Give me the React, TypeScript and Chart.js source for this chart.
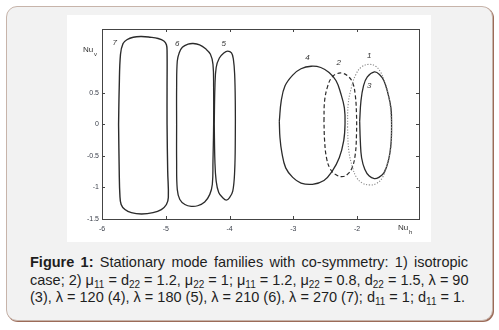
import React, { useEffect, useRef } from "react";
import { Chart, registerables } from "chart.js";

Chart.register(...registerables);

const xTicks = [-6, -5, -4, -3, -2];
const yTicks = [-1.5, -1, -0.5, 0, 0.5];
const xTickLabels = ["-6", "-5", "-4", "-3", "-2"];
const yTickLabels = ["-1.5", "-1", "-0.5", "0", "0.5"];

const curve1X = [-2.15, -2.14, -2.09, -2.02, -1.93, -1.81, -1.71, -1.64, -1.58, -1.51, -1.47, -1.46, -1.47, -1.53, -1.6, -1.7, -1.81, -1.92, -2.01, -2.07, -2.13, -2.15];
const curve1Y = [-0.05, 0.32, 0.58, 0.79, 0.91, 0.95, 0.92, 0.84, 0.71, 0.47, 0.16, -0.05, -0.37, -0.63, -0.84, -0.94, -0.96, -0.93, -0.84, -0.69, -0.42, -0.05];

const curve2X = [-2.52, -2.51, -2.46, -2.4, -2.32, -2.23, -2.14, -2.07, -2.03, -2.01, -2.01, -2.03, -2.08, -2.16, -2.24, -2.33, -2.42, -2.48, -2.51, -2.52];
const curve2Y = [0.05, 0.37, 0.61, 0.74, 0.8, 0.81, 0.76, 0.66, 0.47, 0.16, -0.16, -0.48, -0.69, -0.8, -0.83, -0.8, -0.71, -0.53, -0.26, 0.05];

const curve3X = [-1.96, -1.94, -1.9, -1.84, -1.73, -1.65, -1.58, -1.52, -1.47, -1.46, -1.47, -1.51, -1.58, -1.66, -1.73, -1.81, -1.88, -1.93, -1.95, -1.96];
const curve3Y = [0.05, 0.37, 0.61, 0.75, 0.83, 0.79, 0.69, 0.5, 0.26, 0, -0.32, -0.58, -0.77, -0.84, -0.86, -0.82, -0.71, -0.53, -0.26, 0.05];

const curve4X = [-3.22, -3.19, -3.13, -3.01, -2.88, -2.72, -2.57, -2.44, -2.33, -2.26, -2.2, -2.19, -2.21, -2.28, -2.39, -2.52, -2.7, -2.88, -3.01, -3.12, -3.18, -3.21, -3.22];
const curve4Y = [0.05, 0.37, 0.61, 0.78, 0.88, 0.92, 0.9, 0.82, 0.69, 0.5, 0.26, 0, -0.26, -0.53, -0.74, -0.89, -0.95, -0.93, -0.84, -0.69, -0.45, -0.21, 0.05];

const curve5X = [-4.24, -4.23, -4.21, -4.16, -4.09, -4.03, -3.97, -3.94, -3.92, -3.91, -3.91, -3.92, -3.95, -4.0, -4.05, -4.11, -4.17, -4.21, -4.23, -4.24];
const curve5Y = [0, 0.58, 0.9, 1.05, 1.13, 1.16, 1.13, 1.03, 0.79, 0.32, -0.21, -0.74, -1.06, -1.16, -1.2, -1.16, -1.08, -0.9, -0.58, 0];

const curve6X = [-4.83, -4.83, -4.82, -4.79, -4.74, -4.65, -4.57, -4.47, -4.38, -4.3, -4.26, -4.25, -4.25, -4.26, -4.27, -4.31, -4.39, -4.5, -4.6, -4.7, -4.78, -4.82, -4.83, -4.83];
const curve6Y = [0, 0.58, 1.0, 1.13, 1.22, 1.27, 1.28, 1.26, 1.2, 1.11, 0.95, 0.58, 0, -0.58, -0.95, -1.11, -1.23, -1.29, -1.3, -1.27, -1.19, -1.03, -0.58, 0];

const curve7X = [-5.74, -5.73, -5.71, -5.67, -5.61, -5.51, -5.38, -5.25, -5.12, -5.03, -4.99, -4.98, -4.98, -4.98, -4.97, -4.96, -4.99, -5.07, -5.2, -5.38, -5.54, -5.64, -5.7, -5.72, -5.73, -5.74];
const curve7Y = [0, 0.58, 1.11, 1.28, 1.34, 1.38, 1.39, 1.38, 1.36, 1.32, 1.26, 1.16, 0.58, 0, -0.74, -1.16, -1.27, -1.35, -1.4, -1.42, -1.4, -1.35, -1.27, -1.11, -0.74, 0];

const curveNames = ["1", "2", "3", "4", "5", "6", "7"];
const labelX = [-1.81, -2.29, -1.81, -2.78, -4.09, -4.82, -5.8];
const labelY = [1.08, 0.97, 0.61, 1.06, 1.27, 1.27, 1.29];

const toPts = (xs: number[], ys: number[]) => xs.map((x, i) => ({ x, y: ys[i] }));

const framePlugin = {
  id: "framePlugin",
  afterDraw(chart: any) {
    const { ctx, chartArea, scales } = chart;
    const { left, right, top, bottom } = chartArea;
    ctx.save();
    ctx.strokeStyle = "#444";
    ctx.lineWidth = 1;
    ctx.strokeRect(Math.round(left) + 0.5, Math.round(top) + 0.5, Math.round(right - left), Math.round(bottom - top));
    const tl = 3;
    ctx.beginPath();
    xTicks.forEach((v) => {
      const px = Math.round(scales.x.getPixelForValue(v)) + 0.5;
      ctx.moveTo(px, bottom);
      ctx.lineTo(px, bottom - tl);
      ctx.moveTo(px, top);
      ctx.lineTo(px, top + tl);
    });
    yTicks.forEach((v) => {
      const py = Math.round(scales.y.getPixelForValue(v)) + 0.5;
      ctx.moveTo(left, py);
      ctx.lineTo(left + tl, py);
      ctx.moveTo(right, py);
      ctx.lineTo(right - tl, py);
    });
    ctx.stroke();

    // axis titles
    ctx.fillStyle = "#333";
    ctx.textBaseline = "alphabetic";
    ctx.textAlign = "left";
    ctx.font = "8px 'Liberation Sans', Arial, sans-serif";
    ctx.fillText("Nu", left - 19, top + 23);
    ctx.font = "6px 'Liberation Sans', Arial, sans-serif";
    ctx.fillText("v", left - 8, top + 27);
    ctx.font = "8px 'Liberation Sans', Arial, sans-serif";
    ctx.fillText("Nu", right - 21, bottom + 11);
    ctx.font = "6px 'Liberation Sans', Arial, sans-serif";
    ctx.fillText("h", right - 10, bottom + 15);

    // curve labels
    ctx.font = "italic 8px 'Liberation Sans', Arial, sans-serif";
    ctx.textAlign = "center";
    ctx.textBaseline = "middle";
    curveNames.forEach((n, i) => {
      ctx.fillText(n, scales.x.getPixelForValue(labelX[i]), scales.y.getPixelForValue(labelY[i]));
    });
    ctx.restore();
  },
};

export default function App() {
  const ref = useRef<HTMLCanvasElement | null>(null);

  useEffect(() => {
    if (!ref.current) return;
    const solid = "#2b2b2b";
    const mk = (label: string, xs: number[], ys: number[], color: string, dash: number[], width: number) => ({
      label,
      data: toPts(xs, ys),
      showLine: true,
      borderColor: color,
      borderWidth: width,
      borderDash: dash,
      pointRadius: 0,
      tension: 0.4,
      fill: false,
    });
    const chart = new Chart(ref.current, {
      type: "scatter",
      data: {
        datasets: [
          mk("1", curve1X, curve1Y, "#8a8a8a", [1.2, 1.6], 1.1),
          mk("2", curve2X, curve2Y, solid, [4, 2.5], 1.2),
          mk("3", curve3X, curve3Y, solid, [], 1.3),
          mk("4", curve4X, curve4Y, solid, [], 1.3),
          mk("5", curve5X, curve5Y, solid, [], 1.3),
          mk("6", curve6X, curve6Y, solid, [], 1.3),
          mk("7", curve7X, curve7Y, solid, [], 1.4),
        ] as any,
      },
      options: {
        animation: false,
        responsive: false,
        maintainAspectRatio: false,
        layout: { padding: { top: 14, right: 12, left: 0, bottom: 0 } },
        plugins: { legend: { display: false }, tooltip: { enabled: false } },
        scales: {
          x: {
            type: "linear",
            min: -6,
            max: -1.03,
            afterBuildTicks: (s: any) => {
              s.ticks = xTicks.map((v) => ({ value: v }));
            },
            afterFit: (s: any) => {
              s.height = 23;
            },
            ticks: {
              autoSkip: false,
              maxRotation: 0,
              padding: 6,
              color: "#3a3f4a",
              font: { size: 7, family: "'Liberation Sans', Arial, sans-serif" },
              callback: (v: any) => {
                const i = xTicks.indexOf(Number(v));
                return i >= 0 ? xTickLabels[i] : "";
              },
            },
            grid: { display: false, drawTicks: false },
            border: { display: false },
          },
          y: {
            type: "linear",
            min: -1.5,
            max: 1.51,
            afterBuildTicks: (s: any) => {
              s.ticks = yTicks.map((v) => ({ value: v }));
            },
            afterFit: (s: any) => {
              s.width = 35;
            },
            ticks: {
              autoSkip: false,
              padding: 3,
              color: "#3a3f4a",
              font: { size: 7, family: "'Liberation Sans', Arial, sans-serif" },
              callback: (v: any) => {
                const i = yTicks.indexOf(Number(v));
                return i >= 0 ? yTickLabels[i] : "";
              },
            },
            grid: { display: false, drawTicks: false },
            border: { display: false },
          },
        },
      } as any,
      plugins: [framePlugin],
    });
    return () => chart.destroy();
  }, []);

  const sub = (t: string) => (
    <sub style={{ fontSize: 10, verticalAlign: -3, lineHeight: 0 }}>{t}</sub>
  );

  const lineStyle: React.CSSProperties = {
    textAlign: "justify",
    textAlignLast: "justify" as any,
    whiteSpace: "nowrap",
  };

  return (
    <div style={{ position: "absolute", left: 0, top: 0, width: 499, height: 330, background: "#ffffff" }}>
      <div
        style={{
          position: "absolute",
          left: 6,
          top: 6,
          width: 485,
          height: 313,
          background: "#f2f2f2",
          border: "1px solid #c7b4aa",
          borderRadius: 11,
          boxShadow: "1px 1px 0 #9c6b58",
        }}
      />
      <div style={{ position: "absolute", left: 67, top: 15, width: 364, height: 227, background: "#ffffff" }}>
        <canvas ref={ref} width={364} height={227} style={{ display: "block", width: 364, height: 227 }} />
      </div>
      <div
        style={{
          position: "absolute",
          left: 30,
          top: 254,
          width: 438,
          fontFamily: "'Liberation Sans', Arial, sans-serif",
          fontSize: 14.5,
          lineHeight: "17.5px",
          color: "#1e1e1e",
        }}
      >
        <div style={lineStyle}>
          <b>Figure 1:</b> Stationary mode families with co-symmetry: 1) isotropic
        </div>
        <div style={lineStyle}>
          case; 2) μ{sub("11")} = d{sub("22")} = 1.2, μ{sub("22")} = 1; μ{sub("11")} = 1.2, μ{sub("22")} = 0.8, d{sub("22")} = 1.5, λ = 90
        </div>
        <div style={{ whiteSpace: "nowrap" }}>
          (3), λ = 120 (4), λ = 180 (5), λ = 210 (6), λ = 270 (7); d{sub("11")} = 1; d{sub("11")} = 1.
        </div>
      </div>
    </div>
  );
}
